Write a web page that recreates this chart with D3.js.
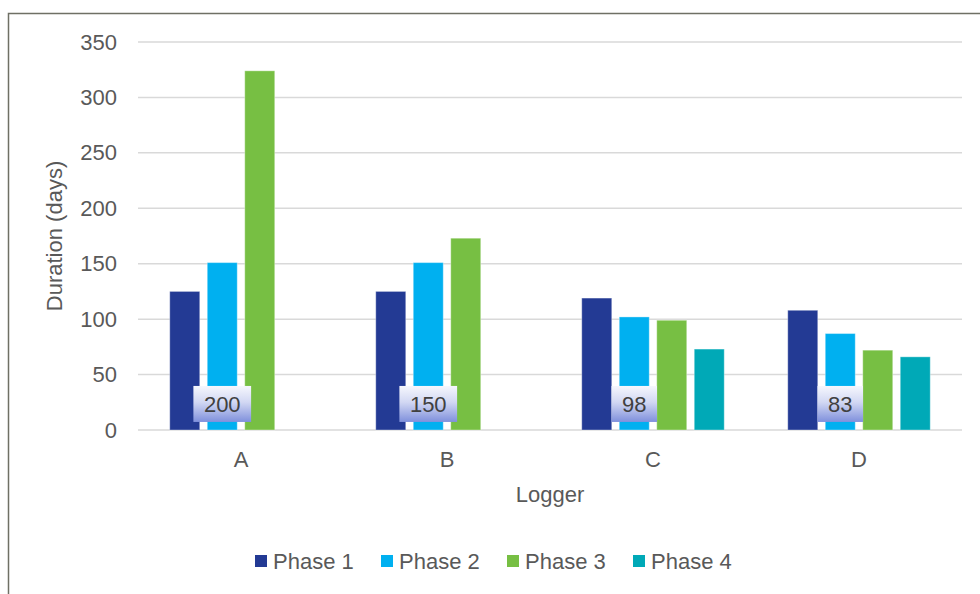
<!DOCTYPE html>
<html>
<head>
<meta charset="utf-8">
<script src="https://cdn.jsdelivr.net/npm/d3@7/dist/d3.min.js"></script>
<style>
  html, body { margin: 0; padding: 0; background: #fff; }
  svg { display: block; font-family: "Liberation Sans", Arial, sans-serif; }
</style>
</head>
<body>
<svg id="chart" width="980" height="594"></svg>
<script>
const categories = ["A", "B", "C", "D"];
const seriesNames = ["Phase 1", "Phase 2", "Phase 3", "Phase 4"];
const phase1 = [125, 125, 119, 108];
const phase2 = [151, 151, 102, 87];
const phase3 = [324, 173, 99, 72];
const phase4 = [null, null, 73, 66];
const boxLabels = ["200", "150", "98", "83"];
const yTicks = [0, 50, 100, 150, 200, 250, 300, 350];
const colors = ["#233a94", "#00b0f0", "#77bf43", "#00a9b7"];

const series = [phase1, phase2, phase3, phase4];
const FONT = "Liberation Sans, Arial, sans-serif";
const FS = 22;

const svg = d3.select("#chart");
const plot = { left: 138, right: 962, top: 42, bottom: 430 };

// outer border
svg.append("rect")
  .attr("x", 8.5).attr("y", 13.5).attr("width", 1000).attr("height", 620)
  .attr("fill", "none").attr("stroke", "#6f7065").attr("stroke-width", 1.5);

const defs = svg.append("defs");
const grad = defs.append("linearGradient").attr("id", "lblGrad")
  .attr("x1", 0).attr("y1", 0).attr("x2", 0).attr("y2", 1);
grad.append("stop").attr("offset", "0%").attr("stop-color", "#f6f7fd");
grad.append("stop").attr("offset", "45%").attr("stop-color", "#d2d8f3");
grad.append("stop").attr("offset", "100%").attr("stop-color", "#7f90dc");

const x = d3.scaleBand().domain(categories).range([plot.left, plot.right]).padding(0);
const y = d3.scaleLinear().domain([0, 350]).range([plot.bottom, plot.top]);
const xs = d3.scaleBand().domain(d3.range(seriesNames.length)).range([0, x.bandwidth()])
  .paddingInner(0.2).paddingOuter(0.847);

// gridlines
svg.append("g").selectAll("line").data(yTicks).join("line")
  .attr("x1", plot.left).attr("x2", plot.right)
  .attr("y1", d => y(d)).attr("y2", d => y(d))
  .attr("stroke", "#d9d9d9").attr("stroke-width", 1.5);

// y axis
const yAxis = d3.axisLeft(y).tickValues(yTicks).tickSize(0).tickPadding(21);
const gy = svg.append("g").attr("transform", `translate(${plot.left},0)`).call(yAxis);
gy.attr("font-size", FS).attr("font-family", FONT);
gy.select(".domain").remove();
gy.selectAll("text").attr("fill", "#595959");

// x axis
const xAxis = d3.axisBottom(x).tickSize(0).tickPadding(21);
const gx = svg.append("g").attr("transform", `translate(0,${plot.bottom})`).call(xAxis);
gx.attr("font-size", FS).attr("font-family", FONT);
gx.select(".domain").remove();
gx.selectAll("text").attr("fill", "#595959");

// bars
const barData = [];
categories.forEach((c, ci) => {
  series.forEach((s, si) => {
    if (s[ci] != null) barData.push({ cat: c, si, v: s[ci] });
  });
});
svg.append("g").selectAll("rect").data(barData).join("rect")
  .attr("x", d => x(d.cat) + xs(d.si))
  .attr("y", d => y(d.v))
  .attr("width", xs.bandwidth())
  .attr("height", d => y(0) - y(d.v))
  .attr("fill", d => colors[d.si])
  .attr("stroke", "rgba(255,255,255,0.35)")
  .attr("stroke-width", 1);

// label boxes on Phase 2 bars
const lblG = svg.append("g").selectAll("g").data(categories).join("g")
  .attr("transform", (c, i) => `translate(${x(c) + xs(1) + xs.bandwidth() / 2},${y(23.5)})`);
lblG.each(function(c, i) {
  const g = d3.select(this);
  const t = g.append("text").text(boxLabels[i])
    .attr("text-anchor", "middle").attr("dy", "0.36em")
    .attr("font-size", FS).attr("fill", "#404040");
  const w = t.node().getComputedTextLength() + 21;
  g.insert("rect", "text")
    .attr("x", -w / 2).attr("y", -18).attr("width", w).attr("height", 36)
    .attr("fill", "url(#lblGrad)");
});

// axis titles
svg.append("text").text("Logger")
  .attr("x", (plot.left + plot.right) / 2).attr("y", 502)
  .attr("text-anchor", "middle").attr("font-size", FS).attr("fill", "#595959");
svg.append("text").text("Duration (days)")
  .attr("transform", `translate(62,${(plot.top + plot.bottom) / 2}) rotate(-90)`)
  .attr("text-anchor", "middle").attr("font-size", FS).attr("fill", "#595959");

// legend
const legendX = [255, 381, 507, 633];
const lg = svg.append("g").selectAll("g").data(seriesNames).join("g")
  .attr("transform", (d, i) => `translate(${legendX[i]},555)`);
lg.append("rect").attr("width", 12).attr("height", 12).attr("fill", (d, i) => colors[i]);
lg.append("text").text(d => d).attr("x", 18).attr("y", 6).attr("dy", "0.36em")
  .attr("font-size", FS).attr("fill", "#595959");
</script>
</body>
</html>
